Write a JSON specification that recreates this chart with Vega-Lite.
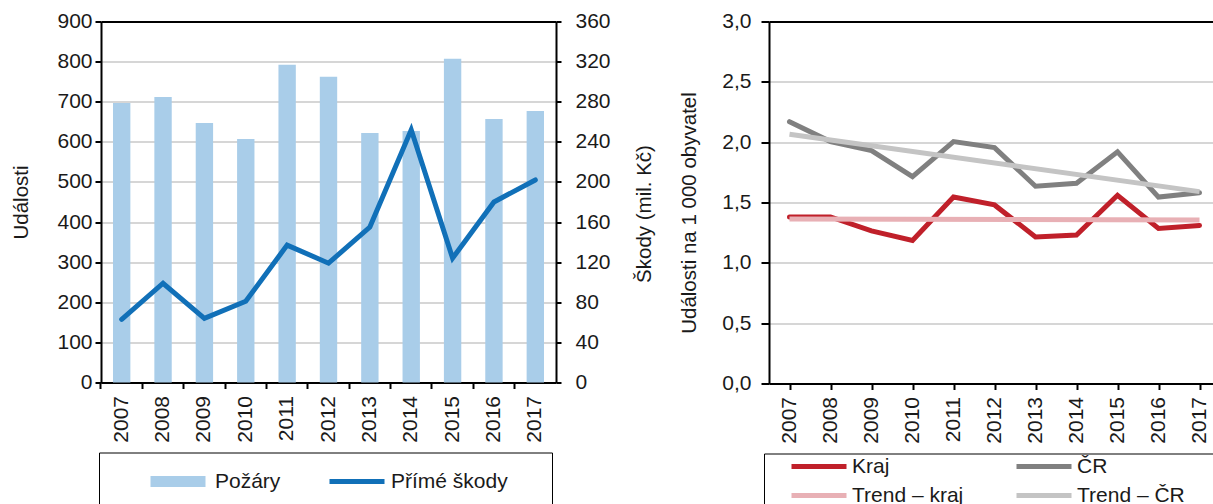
{
  "$schema": "https://vega.github.io/schema/vega-lite/v6.json",
  "padding": {"left": 11, "top": 10.5, "right": 0, "bottom": 0},
  "spacing": 213,
  "bounds": "flush",
  "background": "white",
  "resolve": {"scale": {"color": "independent", "strokeWidth": "independent"}, "legend": {"color": "independent", "strokeWidth": "independent"}},
  "config": {
    "font": "Liberation Sans",
    "view": {"stroke": null},
    "axis": {
      "labelFont": "Liberation Sans", "labelFontSize": 21, "labelColor": "#1a1a1a",
      "titleFont": "Liberation Sans", "titleFontSize": 20.5, "titleFontWeight": "normal", "titleColor": "#1a1a1a",
      "domainColor": "#000", "domainWidth": 2, "tickColor": "#000", "tickWidth": 2, "tickSize": 6,
      "gridColor": "#c8c8c8", "gridWidth": 1.5
    },
    "legend": {
      "labelFont": "Liberation Sans", "labelFontSize": 21, "labelColor": "#1a1a1a",
      "titleFont": "Liberation Sans", "titleFontSize": 21,
      "strokeColor": "#000", "labelLimit": 400, "clipHeight": 21
    }
  },
  "datasets": {
    "pozary": [
      {"rok": 2007, "pozary": 697, "skody": 63},
      {"rok": 2008, "pozary": 712, "skody": 99},
      {"rok": 2009, "pozary": 647, "skody": 64},
      {"rok": 2010, "pozary": 607, "skody": 81},
      {"rok": 2011, "pozary": 792, "skody": 137},
      {"rok": 2012, "pozary": 762, "skody": 119},
      {"rok": 2013, "pozary": 622, "skody": 155},
      {"rok": 2014, "pozary": 627, "skody": 252},
      {"rok": 2015, "pozary": 807, "skody": 124},
      {"rok": 2016, "pozary": 657, "skody": 180},
      {"rok": 2017, "pozary": 677, "skody": 202}
    ],
    "udalosti": [
      {"rok": 2007, "rada": "Kraj", "hodnota": 1.38},
      {"rok": 2008, "rada": "Kraj", "hodnota": 1.38},
      {"rok": 2009, "rada": "Kraj", "hodnota": 1.265},
      {"rok": 2010, "rada": "Kraj", "hodnota": 1.185},
      {"rok": 2011, "rada": "Kraj", "hodnota": 1.545},
      {"rok": 2012, "rada": "Kraj", "hodnota": 1.48},
      {"rok": 2013, "rada": "Kraj", "hodnota": 1.215},
      {"rok": 2014, "rada": "Kraj", "hodnota": 1.23},
      {"rok": 2015, "rada": "Kraj", "hodnota": 1.56},
      {"rok": 2016, "rada": "Kraj", "hodnota": 1.285},
      {"rok": 2017, "rada": "Kraj", "hodnota": 1.31},
      {"rok": 2007, "rada": "ČR", "hodnota": 2.17},
      {"rok": 2008, "rada": "ČR", "hodnota": 2.005},
      {"rok": 2009, "rada": "ČR", "hodnota": 1.93},
      {"rok": 2010, "rada": "ČR", "hodnota": 1.715},
      {"rok": 2011, "rada": "ČR", "hodnota": 2.005},
      {"rok": 2012, "rada": "ČR", "hodnota": 1.955},
      {"rok": 2013, "rada": "ČR", "hodnota": 1.635},
      {"rok": 2014, "rada": "ČR", "hodnota": 1.66},
      {"rok": 2015, "rada": "ČR", "hodnota": 1.92},
      {"rok": 2016, "rada": "ČR", "hodnota": 1.545},
      {"rok": 2017, "rada": "ČR", "hodnota": 1.58}
    ],
    "trend": [
      {"rok": 2007, "rada": "Trend – kraj", "hodnota": 1.363},
      {"rok": 2017, "rada": "Trend – kraj", "hodnota": 1.355},
      {"rok": 2007, "rada": "Trend – ČR", "hodnota": 2.065},
      {"rok": 2017, "rada": "Trend – ČR", "hodnota": 1.59}
    ]
  },
  "hconcat": [
    {
      "width": 455,
      "height": 361,
      "data": {"name": "pozary"},
      "encoding": {
        "x": {
          "field": "rok", "type": "ordinal",
          "scale": {"paddingInner": 0, "paddingOuter": 0},
          "axis": {"title": null, "labelAngle": -90, "bandPosition": 0, "labelDy": 20.7, "labelPadding": 7}
        }
      },
      "layer": [
        {
          "mark": {"type": "bar", "width": {"band": 0.42}},
          "encoding": {
            "y": {
              "field": "pozary", "type": "quantitative",
              "scale": {"domain": [0, 900], "nice": false},
              "axis": {
                "title": "Události", "titlePadding": 25,
                "values": [0, 100, 200, 300, 400, 500, 600, 700, 800, 900],
                "labelPadding": 3,
                "gridColor": {"condition": {"test": "datum.value == 900", "value": "#000"}, "value": "#c8c8c8"},
                "gridWidth": {"condition": {"test": "datum.value == 900", "value": 2}, "value": 1.5}
              }
            },
            "color": {
              "datum": "Požáry", "type": "nominal",
              "scale": {"domain": ["Požáry", "Přímé škody"], "range": ["#a9cde9", "#1170b8"]},
              "legend": {"title": "\u00a0", "titleOrient": "right", "titlePadding": 26, "orient": "none", "legendX": -2, "legendY": 431, "direction": "horizontal",
                "padding": 18.5, "symbolType": "M-1,0H4.5", "symbolSize": 400, "symbolOffset": 27.5, "labelOffset": 39, "columnPadding": 19}
            }
          }
        },
        {
          "mark": {"type": "line", "strokeCap": "round"},
          "encoding": {
            "y": {
              "field": "skody", "type": "quantitative",
              "scale": {"domain": [0, 360], "nice": false},
              "axis": {
                "orient": "right", "title": "Škody (mil. Kč)", "titleAngle": 270, "titleBaseline": "top",
                "titlePadding": 24, "titleY": 192,
                "values": [0, 40, 80, 120, 160, 200, 240, 280, 320, 360],
                "grid": false, "tickSize": 5, "labelPadding": 14
              }
            },
            "color": {"datum": "Přímé škody", "type": "nominal"},
            "strokeWidth": {
              "datum": "Přímé škody", "type": "nominal",
              "scale": {"domain": ["Požáry", "Přímé škody"], "range": [11, 5]},
              "legend": {"title": "\u00a0", "titleOrient": "right", "titlePadding": 26, "orient": "none", "legendX": -2, "legendY": 431, "direction": "horizontal",
                "padding": 18.5, "symbolType": "M-1,0H4.5", "symbolSize": 400, "symbolOffset": 27.5, "labelOffset": 39, "columnPadding": 19}
            }
          }
        }
      ],
      "resolve": {"scale": {"y": "independent"}}
    },
    {
      "width": 451,
      "height": 362,
      "encoding": {
        "x": {
          "field": "rok", "type": "ordinal",
          "scale": {"domain": [2007, 2008, 2009, 2010, 2011, 2012, 2013, 2014, 2015, 2016, 2017], "paddingInner": 0, "paddingOuter": 0},
          "axis": {"title": null, "labelAngle": -90, "bandPosition": 0, "labelDy": 20.5, "labelPadding": 7}
        },
        "y": {
          "field": "hodnota", "type": "quantitative",
          "scale": {"domain": [0, 3], "nice": false},
          "axis": {
            "title": "Události na 1 000 obyvatel", "titlePadding": 22, "titleY": 191,
            "values": [0, 0.5, 1, 1.5, 2, 2.5, 3],
            "labelExpr": "replace(format(datum.value, '.1f'), '.', ',')",
            "labelPadding": 10, "tickSize": 8,
            "gridColor": {"condition": {"test": "datum.value == 3", "value": "#000"}, "value": "#c8c8c8"},
            "gridWidth": {"condition": {"test": "datum.value == 3", "value": 2}, "value": 1.5}
          }
        },
        "color": {
          "field": "rada", "type": "nominal",
          "scale": {"domain": ["Kraj", "ČR", "Trend – kraj", "Trend – ČR"], "range": ["#c0202a", "#808080", "#e8b0b5", "#c4c4c4"]},
          "legend": {"title": "\u00a0", "titleOrient": "right", "titlePadding": 30, "orient": "none", "legendX": -5, "legendY": 432, "direction": "horizontal", "columns": 2,
            "padding": 2.5, "symbolType": "M-1,0H4.5", "symbolSize": 400, "symbolOffset": 22.5, "labelOffset": 38, "columnPadding": 28, "rowPadding": 7}
        },
        "strokeWidth": {
          "field": "rada", "type": "nominal",
          "scale": {"domain": ["Kraj", "ČR", "Trend – kraj", "Trend – ČR"], "range": [5, 5, 3, 3]},
          "legend": {"title": "\u00a0", "titleOrient": "right", "titlePadding": 30, "orient": "none", "legendX": -5, "legendY": 432, "direction": "horizontal", "columns": 2,
            "padding": 2.5, "symbolType": "M-1,0H4.5", "symbolSize": 400, "symbolOffset": 22.5, "labelOffset": 38, "columnPadding": 28, "rowPadding": 7}
        }
      },
      "layer": [
        {"data": {"name": "udalosti"}, "mark": {"type": "line", "strokeCap": "round"}},
        {"data": {"name": "trend"}, "mark": {"type": "line", "strokeCap": "butt"}}
      ]
    }
  ]
}
